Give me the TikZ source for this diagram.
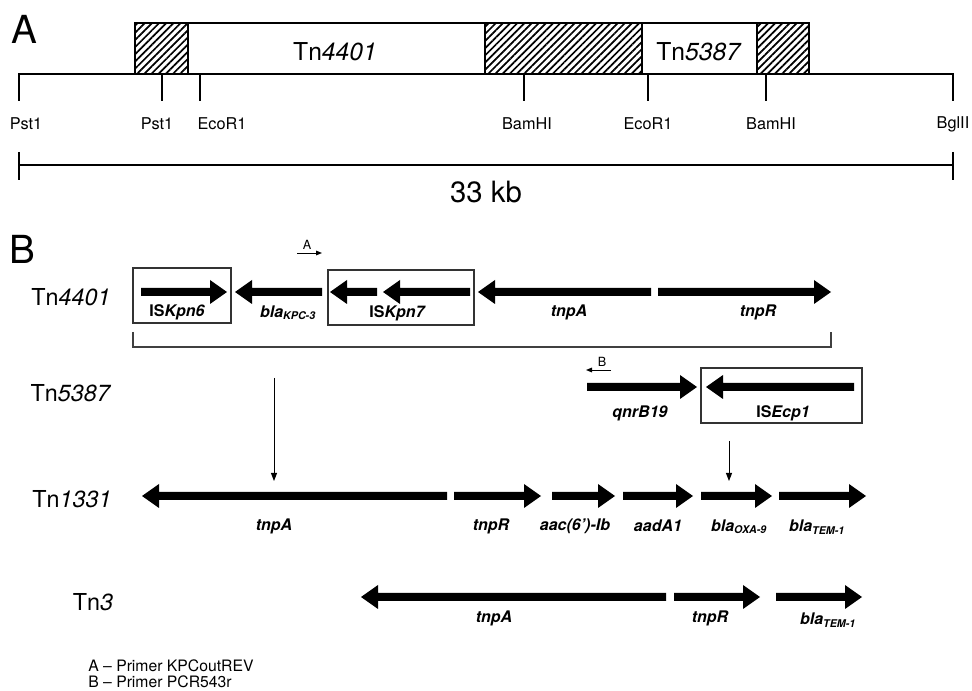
\documentclass[tikz,border=0pt]{standalone}
\usepackage{fontspec}
\setmainfont{TeX Gyre Heros}
\usetikzlibrary{patterns.meta,arrows.meta}
\newcommand{\geneR}[3]{\fill (#1,#3-4) -- (#2-17,#3-4) -- (#2-17,#3-12) -- (#2,#3) -- (#2-17,#3+12) -- (#2-17,#3+4) -- (#1,#3+4) -- cycle;}
\newcommand{\geneL}[3]{\fill (#2,#3-4) -- (#1+17,#3-4) -- (#1+17,#3-12) -- (#1,#3) -- (#1+17,#3+12) -- (#1+17,#3+4) -- (#2,#3+4) -- cycle;}
\tikzset{
  big/.style={font=\fontsize{29}{32}\selectfont, inner sep=0pt},
  site/.style={font=\fontsize{12.2}{14}\selectfont, inner sep=0pt},
  gene/.style={font=\fontsize{12}{14}\selectfont\bfseries\itshape, inner sep=0pt},
  tnlab/.style={font=\fontsize{17.5}{20}\selectfont, inner sep=0pt},
  boxlab/.style={font=\fontsize{18.5}{21}\selectfont, inner sep=0pt},
  small/.style={font=\fontsize{9.5}{10}\selectfont, inner sep=0pt},
  note/.style={font=\fontsize{11.8}{13}\selectfont, inner sep=0pt, anchor=west},
  hatch/.style={pattern={Lines[angle=45,distance=3.8pt,line width=1.3pt]}},
  isbox/.style={draw=black!80, line width=0.9pt},
  vtip/.style={-{Triangle[length=6pt,width=4.5pt]}, line width=0.7pt},
  ptip/.style={-{Triangle[length=4.5pt,width=3.5pt]}, line width=0.7pt},
}
\begin{document}
\begin{tikzpicture}[x=0.75pt,y=-0.75pt]
\useasboundingbox (0,0) rectangle (972,691);
% ---------------- Part A ----------------
\node[big] (labA) at (24,29) {A};
\fill[hatch] (135,23) rectangle (188,74);
\fill[hatch] (485,23) rectangle (642,74);
\fill[hatch] (757,23) rectangle (809,74);
\draw[line width=1pt] (135,74) -- (135,23) -- (809,23) -- (809,74);
\draw[line width=1pt] (188,23) -- (188,74) (485,23) -- (485,74) (642,23) -- (642,74) (757,23) -- (757,74);
\node[boxlab] (t4401) at (335,52) {Tn\textit{4401}};
\node[boxlab] (t5387) at (699,52) {Tn\textit{5387}};
\draw[line width=1pt] (19,101) -- (19,74) -- (953,74) -- (953,101);
\draw[line width=1pt] (162,74) -- (162,101) (200,74) -- (200,101) (524,74) -- (524,101) (648,74) -- (648,101) (766,74) -- (766,101);
\node[site] (s1) at (26,124) {Pst1};
\node[site] (s2) at (157,124) {Pst1};
\node[site] (s3) at (222,124) {EcoR1};
\node[site] (s4) at (527,124) {BamHI};
\node[site] (s5) at (648,124) {EcoR1};
\node[site] (s6) at (771,124) {BamHI};
\node[site] (s7) at (953,124) {BglII};
\draw[line width=1pt] (19,152) -- (19,180) (19,165) -- (953,165) (953,152) -- (953,180);
\node[font=\fontsize{22}{25}\selectfont, inner sep=0pt] (kb) at (486,192) {33 kb};
% ---------------- Part B ----------------
\node[big] (labB) at (22,249) {B};
% Tn4401
\node[tnlab] (n4401) at (71,297) {Tn\textit{4401}};
\draw[isbox] (133,268) rectangle (231,323);
\geneR{141}{227}{292}
\node[gene] (gKpn6) at (177,312) {\textup{IS}\textit{Kpn6}};
\geneL{235}{322}{292}
\node[gene] (gKPC) at (288,313) {bla\textsubscript{KPC-3}};
\draw[isbox] (328,270) rectangle (474,325);
\geneL{330}{377}{292}
\geneL{383}{470}{292}
\node[gene] (gKpn7) at (397,313) {\textup{IS}\textit{Kpn7}};
\geneL{478}{651}{292}
\geneR{658}{831}{292}
\node[gene] (gtnpA1) at (569,312) {tnpA};
\node[gene] (gtnpR1) at (758,312) {tnpR};
\coordinate (pA1) at (297,253);
\coordinate (pA2) at (322,253);
\draw[ptip] (pA1) -- (pA2);
\node[small] (primA) at (307,245) {A};
\draw[line width=1pt, draw=black!75] (133,332) -- (133,347) -- (831,347) -- (831,332);
% Tn5387
\node[tnlab] (n5387) at (71,393) {Tn\textit{5387}};
\coordinate (pB1) at (611,370);
\coordinate (pB2) at (586,370);
\draw[ptip] (pB1) -- (pB2);
\node[small] (primB) at (602,362) {B};
\geneR{587}{697}{387}
\node[gene] (gqnr) at (640,413) {qnrB19};
\draw[isbox] (701,368) rectangle (862,423);
\geneL{706}{854}{387}
\node[gene] (gEcp) at (783,413) {\textup{IS}\textit{Ecp1}};
% insertion arrows
\coordinate (ins1a) at (274,378);
\coordinate (ins1b) at (274,481);
\draw[vtip] (ins1a) -- (ins1b);
\coordinate (ins2a) at (729,441);
\coordinate (ins2b) at (729,481);
\draw[vtip] (ins2a) -- (ins2b);
% Tn1331
\node[tnlab] (n1331) at (72,499) {Tn\textit{1331}};
\geneL{142}{447}{496}
\geneR{454}{541}{496}
\geneR{552}{615}{496}
\geneR{623}{693}{496}
\geneR{701}{772}{496}
\geneR{779}{866}{496}
\node[gene] (h1) at (274,526) {tnpA};
\node[gene] (h2) at (491,526) {tnpR};
\node[gene] (h3) at (575,526) {aac(6’)-Ib};
\node[gene] (h4) at (658,526) {aadA1};
\node[gene] (h5) at (739,527) {bla\textsubscript{OXA-9}};
\node[gene] (h6) at (817,527) {bla\textsubscript{TEM-1}};
% Tn3
\node[tnlab] (n3) at (93,602) {Tn\textit{3}};
\geneL{361}{666}{597}
\geneR{674}{760}{597}
\geneR{776}{862}{597}
\node[gene] (k1) at (494,618) {tnpA};
\node[gene] (k2) at (710,618) {tnpR};
\node[gene] (k3) at (828,620) {bla\textsubscript{TEM-1}};
% notes
\node[note] (nA) at (88,666) {A – Primer KPCoutREV};
\node[note] (nB) at (88,682) {B – Primer PCR543r};
\end{tikzpicture}
\end{document}
